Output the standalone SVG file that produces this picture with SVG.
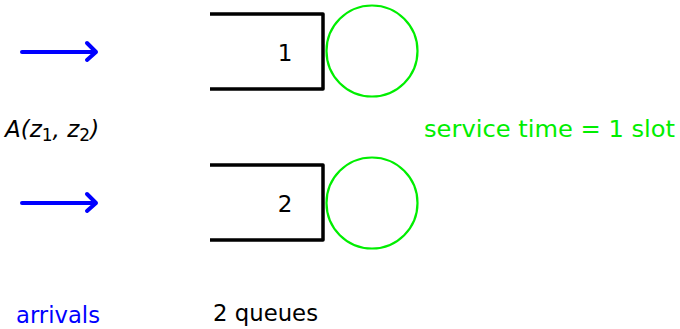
<svg xmlns="http://www.w3.org/2000/svg" width="680" height="329" viewBox="0 0 680 329">
<style>
.q{fill:none;stroke:#000;stroke-width:3.5;stroke-linejoin:round}
.srv{fill:none;stroke:#00ee00;stroke-width:2.2}
.arr{fill:none;stroke:#0000ff;stroke-width:4;stroke-linecap:round;stroke-linejoin:round}
text{font-family:"DejaVu Sans","Liberation Sans",sans-serif;font-size:23px}
.lbl{fill:#000}
.blue{fill:#0000ff}
.green{fill:#00ee00}
</style>
<rect width="680" height="329" fill="#fff"/>
<g id="connectors">
<path class="arr" d="M22,52 H96 M87,43 L96,52 L87,60"/>
<path class="arr" d="M22,203 H96 M87,194 L96,203 L87,211"/>
</g>
<g id="queue1">
<path class="q" d="M210,14 H323 V89 H210"/>
<text class="lbl" x="285" y="61" text-anchor="middle">1</text>
</g>
<g id="server1"><circle class="srv" cx="372" cy="51" r="45.5"/></g>
<g id="queue2">
<path class="q" d="M210,165 H323 V240 H210"/>
<text class="lbl" x="285" y="212" text-anchor="middle">2</text>
</g>
<g id="server2"><circle class="srv" cx="372" cy="203" r="45.5"/></g>
<text class="lbl" x="5" y="137" font-style="italic" font-size="26">A(z<tspan font-style="normal" font-size="17" dy="4">1</tspan><tspan dy="-4">, z</tspan><tspan font-style="normal" font-size="17" dy="4">2</tspan><tspan dy="-4">)</tspan></text>
<text class="green" x="424" y="137" textLength="251" lengthAdjust="spacingAndGlyphs">service time = 1 slot</text>
<text class="blue" x="16" y="323" textLength="84" lengthAdjust="spacingAndGlyphs">arrivals</text>
<text class="lbl" x="213" y="321" textLength="105" lengthAdjust="spacingAndGlyphs">2 queues</text>
</svg>
